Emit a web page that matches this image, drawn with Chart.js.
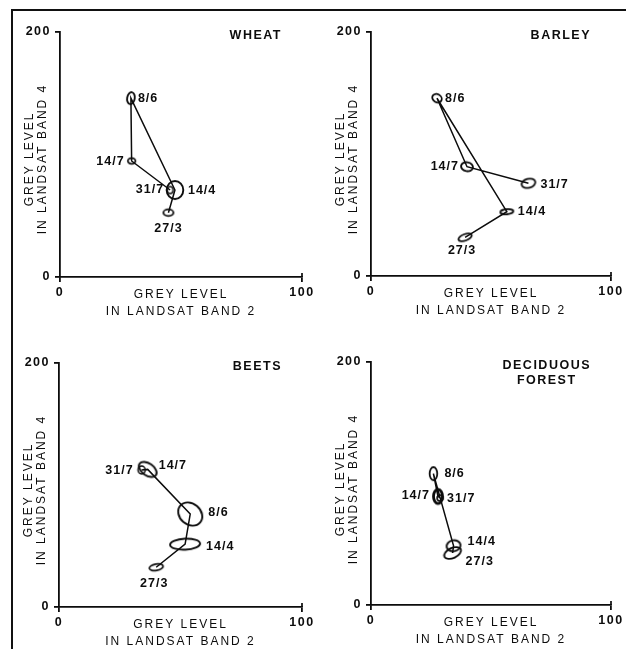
<!DOCTYPE html>
<html>
<head>
<meta charset="utf-8">
<script src="https://cdn.jsdelivr.net/npm/chart.js@4.4.1/dist/chart.umd.min.js"></script>
<style>
  html, body { margin: 0; padding: 0; background: #fff; }
  #page { position: relative; width: 626px; height: 649px; overflow: hidden; }
  #frame { position: absolute; left: 11px; top: 9px; right: -5px; bottom: -5px;
           border-left: 2px solid #111; border-top: 2px solid #111; }
  canvas { position: absolute; }
</style>
</head>
<body>
<div id="page">
  <div id="frame"></div>
  <canvas id="wheat"></canvas>
  <canvas id="barley"></canvas>
  <canvas id="beets"></canvas>
  <canvas id="forest"></canvas>
</div>
<script>
// dates of the Landsat passes, in the order the track is drawn
const dates = ['27/3', '14/4', '8/6', '14/7', '31/7'];

const xTicks = [0, 100];
const yTicks = [0, 200];
const xTitle = ['GREY LEVEL', 'IN LANDSAT BAND 2'];
const yTitle = ['GREY LEVEL', 'IN LANDSAT BAND 4'];

// grey levels (band 2 = x, band 4 = y), same order as dates
const wheatBand2 = [44.8, 47.5, 29.3, 29.6, 45.5];
const wheatBand4 = [52.5, 71, 146, 94.7, 71];
const barleyBand2 = [39.2, 56.6, 27.5, 40, 65.6];
const barleyBand4 = [31.7, 52.7, 145.7, 89.6, 76];
const beetsBand2 = [40, 51.9, 54, 36.5, 34];
const beetsBand4 = [32.6, 51.5, 76.2, 112.8, 112.3];
const forestBand2 = [34, 34.4, 26, 27.9, 28.8];
const forestBand4 = [42.8, 48.8, 108.1, 89.4, 88.1];

// ellipse look per point: rx, ry (px), rotation (deg), line width
const wheatMarks = [[5, 3.3, 0, 1.8], [8.3, 9, 0, 1.9], [3.8, 6, 10, 1.9], [3.8, 2.8, 0, 1.7], [3, 3.5, 0, 1.6]];
const barleyMarks = [[7, 3.2, -20, 1.8], [6.5, 2.5, -5, 1.8], [5, 4, 30, 1.8], [6, 4.5, 10, 1.9], [7, 4.5, -15, 1.8]];
const beetsMarks = [[7, 3.2, -10, 1.7], [15, 5.5, -3, 1.9], [13, 10.5, 40, 1.9], [10, 6, 35, 1.9], [3.5, 4, 0, 1.6]];
const forestMarks = [[9, 5, -25, 1.9], [7, 5.5, -10, 1.9], [3.8, 6.5, 0, 1.8], [4.5, 7, 0, 2.8], [3, 3, 0, 1.6]];

// label placement relative to the point: dx, dy, align
const wheatLabelPos = [[0, 16, 'center'], [13, 1, 'left'], [7, 0, 'left'], [-7, 1, 'right'], [-6, 0, 'right']];
const barleyLabelPos = [[-3, 13, 'center'], [11, 0, 'left'], [8, 0, 'left'], [-8, 0, 'right'], [12, 1, 'left']];
const beetsLabelPos = [[-2, 16, 'center'], [21, 2, 'left'], [18, -1, 'left'], [11, -4, 'left'], [-8, 1, 'right']];
const forestLabelPos = [[13, 9, 'left'], [14, -4, 'left'], [11, 0, 'left'], [-8, -1, 'right'], [7, 1, 'left']];

const ink = '#0c0c0c';
const font = '"Liberation Sans", Arial, sans-serif';

function ellipseMark(rx, ry, deg, lw) {
    const c = document.createElement('canvas');
    const s = Math.ceil(2 * Math.max(rx, ry) + 2 * lw + 2);
    c.width = s;
    c.height = s;
    const g = c.getContext('2d');
    g.strokeStyle = ink;
    g.lineWidth = lw;
    g.beginPath();
    g.ellipse(s / 2, s / 2, rx, ry, deg * Math.PI / 180, 0, Math.PI * 2);
    g.stroke();
    return c;
}

// titles, axis titles and date labels
const annotate = {
    id: 'annotate',
    beforeDraw(chart) {
        chart.ctx.letterSpacing = '1.5px';
    },
    afterDraw(chart, args, opts) {
        const p = opts.panel;
        const { ctx, chartArea: a, scales: { x, y } } = chart;
        ctx.save();
        ctx.fillStyle = ink;
        ctx.strokeStyle = ink;
        ctx.textBaseline = 'middle';

        // the tick at 100 crosses the axis
        const x100 = x.getPixelForValue(xTicks[1]);
        ctx.lineWidth = 1.7;
        ctx.beginPath();
        ctx.moveTo(x100, a.bottom - 4);
        ctx.lineTo(x100, a.bottom);
        ctx.stroke();

        // panel name
        ctx.font = 'bold 12.5px ' + font;
        ctx.letterSpacing = '1.5px';
        ctx.textAlign = 'center';
        const w = Math.max(...p.title.map(t => ctx.measureText(t).width));
        p.title.forEach((t, i) => ctx.fillText(t, a.right - 20 - w / 2, a.top + 4 + i * 15));

        // axis titles
        ctx.font = '12px ' + font;
        ctx.letterSpacing = '2px';
        xTitle.forEach((t, i) => ctx.fillText(t, (a.left + a.right) / 2, a.bottom + 18 + i * 17));
        ctx.save();
        ctx.translate(a.left - 30, a.top + 127);
        ctx.rotate(-Math.PI / 2);
        yTitle.forEach((t, i) => ctx.fillText(t, 0, i * 13));
        ctx.restore();

        // date labels
        ctx.font = 'bold 12.5px ' + font;
        ctx.letterSpacing = '1px';
        dates.forEach((d, i) => {
            const [dx, dy, align] = p.labelPos[i];
            ctx.textAlign = align;
            ctx.fillText(d, x.getPixelForValue(p.x[i]) + dx, y.getPixelForValue(p.y[i]) + dy);
        });
        ctx.restore();
    }
};

const panels = [
    { id: 'wheat', title: ['WHEAT'], x: wheatBand2, y: wheatBand4, marks: wheatMarks, labelPos: wheatLabelPos, area: [60, 32, 302, 277] },
    { id: 'barley', title: ['BARLEY'], x: barleyBand2, y: barleyBand4, marks: barleyMarks, labelPos: barleyLabelPos, area: [371, 32, 611, 276] },
    { id: 'beets', title: ['BEETS'], x: beetsBand2, y: beetsBand4, marks: beetsMarks, labelPos: beetsLabelPos, area: [59, 363, 302, 607] },
    { id: 'forest', title: ['DECIDUOUS', 'FOREST'], x: forestBand2, y: forestBand4, marks: forestMarks, labelPos: forestLabelPos, area: [371, 362, 611, 605] }
];

const padLeft = 60, padTop = 25, padRight = 20, padBottom = 48;

panels.forEach(p => {
    const [l, t, r, b] = p.area;
    const cv = document.getElementById(p.id);
    cv.width = r - l + padLeft + padRight;
    cv.height = b - t + padTop + padBottom;
    cv.style.left = (l - padLeft) + 'px';
    cv.style.top = (t - padTop) + 'px';

    const axis = (min, max, ticks, fitKey, fitSize, pad) => ({
        type: 'linear',
        min: min,
        max: max,
        afterBuildTicks: s => { s.ticks = ticks.map(v => ({ value: v })); },
        afterFit: s => { s[fitKey] = fitSize; },
        border: { color: ink, width: 1.8 },
        grid: { drawOnChartArea: false, drawTicks: true, tickLength: 5, color: ink, lineWidth: 1.8 },
        ticks: { color: ink, padding: pad, autoSkip: false, maxRotation: 0, font: { family: font, size: 12.5, weight: 'bold' } },
        title: { display: false }
    });

    new Chart(cv.getContext('2d'), {
        type: 'scatter',
        data: {
            datasets: [{
                data: p.x.map((v, i) => ({ x: v, y: p.y[i] })),
                showLine: true,
                borderColor: ink,
                borderWidth: 1.5,
                tension: 0,
                pointRadius: 4,
                pointStyle: p.marks.map(m => ellipseMark(m[0], m[1], m[2], m[3]))
            }]
        },
        options: {
            responsive: false,
            animation: false,
            layout: { padding: { left: 0, top: padTop, right: padRight, bottom: 0 } },
            plugins: {
                legend: { display: false },
                tooltip: { enabled: false },
                annotate: { panel: p }
            },
            scales: {
                x: axis(0, 100, xTicks, 'height', padBottom, 3),
                y: axis(0, 200, yTicks, 'width', padLeft, 4)
            }
        },
        plugins: [annotate]
    });
});
</script>
</body>
</html>
